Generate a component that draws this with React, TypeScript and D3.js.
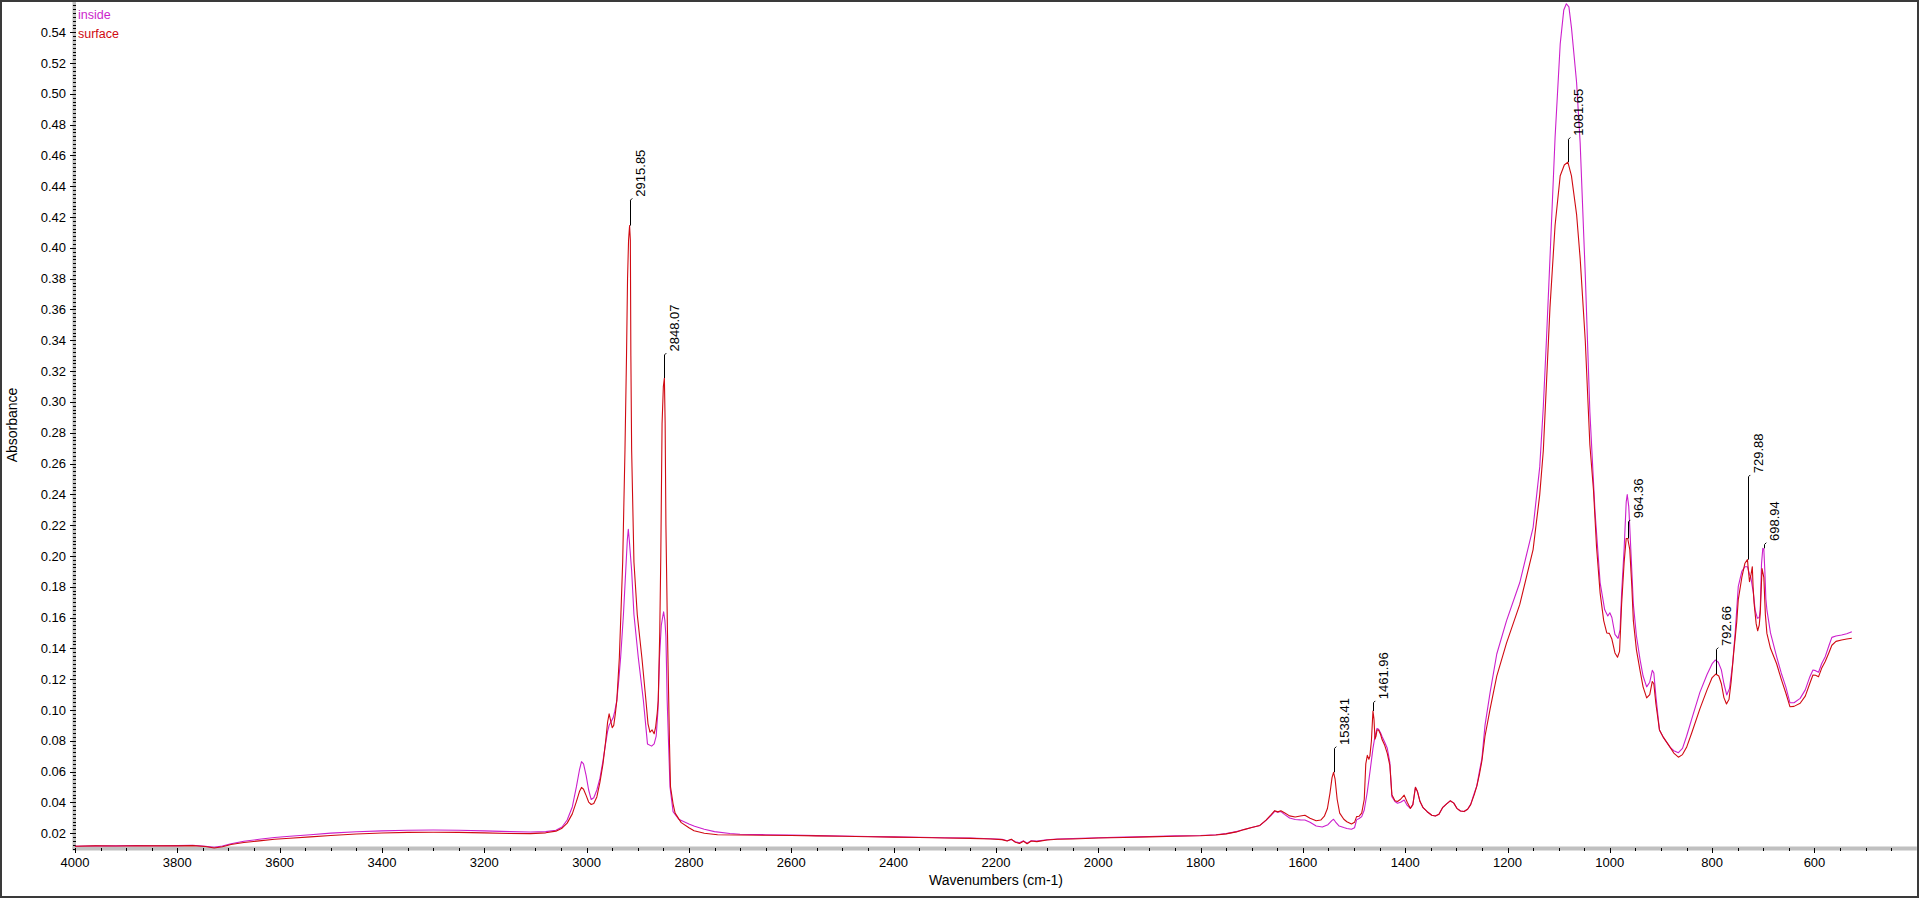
import * as d3 from "d3";

// FTIR spectra: [wavenumber cm-1, absorbance]
const insideSpectrum: [number, number][] = [
  [4000, 0.0115], [3960, 0.0118], [3920, 0.0117], [3880, 0.012], [3840, 0.0118], [3800, 0.0119],
  [3770, 0.0121], [3745, 0.0115], [3728, 0.0108], [3712, 0.0116], [3695, 0.0131], [3670, 0.0147],
  [3640, 0.016], [3610, 0.0172], [3580, 0.018], [3540, 0.019], [3500, 0.02], [3450, 0.0209],
  [3400, 0.0215], [3350, 0.0219], [3300, 0.022], [3250, 0.0219], [3200, 0.0215], [3150, 0.021],
  [3110, 0.0207], [3080, 0.021], [3060, 0.0219], [3048, 0.024], [3038, 0.0285], [3028, 0.037],
  [3020, 0.05], [3014, 0.061], [3010, 0.0664], [3006, 0.065], [3001, 0.0575], [2996, 0.048],
  [2991, 0.0418], [2986, 0.043], [2980, 0.048], [2974, 0.0555], [2968, 0.067], [2963, 0.078],
  [2959, 0.086], [2956, 0.09], [2952, 0.0925], [2948, 0.095], [2945, 0.099], [2941, 0.106],
  [2937, 0.12], [2933.5, 0.134], [2928, 0.162], [2923.5, 0.1905], [2920.5, 0.21], [2918.5, 0.2172],
  [2916.5, 0.21], [2912, 0.1905], [2907.5, 0.162], [2899, 0.134], [2889, 0.106], [2881, 0.0778],
  [2873, 0.0765], [2868, 0.078], [2864, 0.083], [2860.5, 0.1], [2857.5, 0.134], [2854, 0.155],
  [2851, 0.161], [2849.5, 0.1637], [2847, 0.158], [2845, 0.148], [2842.5, 0.106], [2840, 0.08],
  [2837, 0.05], [2831, 0.034], [2820, 0.029], [2800, 0.026], [2789, 0.0245], [2770, 0.0225],
  [2750, 0.021], [2720, 0.0198], [2700, 0.0193], [2650, 0.019], [2600, 0.0188], [2550, 0.0184],
  [2500, 0.0181], [2450, 0.0178], [2400, 0.0176], [2350, 0.0173], [2300, 0.017], [2250, 0.0168],
  [2210, 0.0164], [2188, 0.016], [2178, 0.0151], [2170, 0.0159], [2162, 0.0144], [2154, 0.0137],
  [2146, 0.015], [2139, 0.0134], [2131, 0.0151], [2120, 0.0148], [2100, 0.0157], [2080, 0.0162],
  [2050, 0.0165], [2000, 0.017], [1950, 0.0174], [1900, 0.0178], [1850, 0.0182], [1800, 0.0185],
  [1770, 0.019], [1750, 0.0197], [1730, 0.021], [1715, 0.0224], [1700, 0.0237], [1684, 0.025],
  [1672, 0.0283], [1662, 0.0315], [1655, 0.0342], [1649, 0.0336], [1643, 0.034], [1636, 0.0322],
  [1626, 0.0298], [1615, 0.0289], [1605, 0.0286], [1596, 0.0285], [1586, 0.0271], [1574, 0.0246],
  [1562, 0.024], [1551, 0.0255], [1543, 0.0283], [1540, 0.029], [1536, 0.0272], [1529, 0.0246],
  [1520, 0.0236], [1514, 0.023], [1505, 0.0225], [1499, 0.0235], [1495, 0.0286], [1490, 0.0295],
  [1485, 0.0307], [1480, 0.035], [1474, 0.047], [1468, 0.062], [1463, 0.075], [1459, 0.083],
  [1455, 0.088], [1452, 0.0875], [1448, 0.085], [1445, 0.0826], [1440, 0.079], [1435, 0.0751],
  [1430, 0.066], [1426, 0.0436], [1420, 0.0405], [1415, 0.0394], [1409, 0.04], [1402, 0.0415],
  [1396, 0.038], [1390, 0.0361], [1385, 0.0385], [1380, 0.0498], [1376, 0.047], [1371, 0.0405],
  [1365, 0.0365], [1357, 0.0339], [1348, 0.0316], [1341, 0.0311], [1334, 0.0322], [1327, 0.0365],
  [1319, 0.039], [1312, 0.041], [1305, 0.0395], [1299, 0.0361], [1292, 0.0344], [1285, 0.034],
  [1278, 0.0355], [1272, 0.0387], [1265, 0.046], [1260, 0.0507], [1255, 0.06], [1250, 0.0686],
  [1244, 0.09], [1234, 0.1114], [1221, 0.1363], [1202, 0.1578], [1176, 0.1827], [1150, 0.2184],
  [1137, 0.2578], [1130, 0.297], [1124, 0.3397], [1117, 0.3932], [1107, 0.4718], [1097, 0.5324],
  [1090, 0.5545], [1085, 0.5585], [1080, 0.5565], [1075, 0.543], [1065, 0.5075], [1058, 0.4682],
  [1048, 0.3825], [1039, 0.2935], [1029, 0.229], [1019, 0.1827], [1010, 0.165], [1004, 0.161],
  [1000, 0.1631], [996, 0.16], [990, 0.149], [984, 0.1465], [980, 0.152], [977, 0.1756],
  [972, 0.205], [968, 0.235], [966, 0.2398], [963, 0.232], [961, 0.2185], [957, 0.19],
  [954, 0.1685], [948, 0.148], [941, 0.1328], [935, 0.122], [928, 0.115], [922, 0.118],
  [917, 0.1257], [914, 0.124], [910, 0.109], [903, 0.087], [895, 0.082], [882, 0.0757],
  [875, 0.0735], [866, 0.0722], [858, 0.075], [850, 0.0829], [840, 0.094], [824, 0.1114],
  [810, 0.123], [800, 0.13], [794, 0.1324], [788, 0.131], [782, 0.126], [777, 0.117],
  [771.5, 0.1097], [766, 0.114], [760, 0.13], [755, 0.15], [749, 0.18], [742, 0.19],
  [736, 0.193], [731, 0.193], [727, 0.188], [724.6, 0.1865], [719.5, 0.176], [716, 0.165],
  [711.6, 0.1595], [708, 0.16], [706, 0.165], [703.5, 0.195], [701, 0.2049], [699, 0.2045],
  [697, 0.19], [695, 0.172], [693, 0.165], [686, 0.15], [674, 0.1346], [665, 0.124],
  [656, 0.115], [648, 0.1047], [640, 0.1047], [628, 0.1075], [618, 0.113], [609, 0.1216],
  [603, 0.1259], [598, 0.1255], [592, 0.1245], [586, 0.13], [579, 0.1346], [572, 0.1415],
  [566, 0.1471], [558, 0.148], [547, 0.1486], [537, 0.1495], [527, 0.1508],
];

const surfaceSpectrum: [number, number][] = [
  [4000, 0.0115], [3960, 0.0117], [3920, 0.0116], [3880, 0.0118], [3840, 0.0117], [3800, 0.0117],
  [3770, 0.0119], [3745, 0.0113], [3728, 0.0104], [3712, 0.0112], [3695, 0.0126], [3670, 0.0139],
  [3640, 0.015], [3610, 0.016], [3580, 0.0167], [3540, 0.0176], [3500, 0.0185], [3450, 0.0194],
  [3400, 0.0201], [3350, 0.0205], [3300, 0.0206], [3250, 0.0205], [3200, 0.0202], [3150, 0.0198],
  [3110, 0.0197], [3080, 0.0202], [3060, 0.0213], [3048, 0.0232], [3038, 0.0265], [3028, 0.0325],
  [3020, 0.0405], [3014, 0.047], [3010, 0.0497], [3006, 0.0485], [3001, 0.0445], [2996, 0.0402],
  [2991, 0.0386], [2986, 0.0393], [2980, 0.0435], [2974, 0.053], [2968, 0.065], [2963, 0.079],
  [2959, 0.092], [2956, 0.0975], [2953, 0.093], [2950, 0.0885], [2947, 0.09], [2944, 0.097],
  [2941, 0.106], [2936, 0.134], [2933, 0.162], [2929.5, 0.196], [2925, 0.269], [2922, 0.33],
  [2920, 0.38], [2918, 0.405], [2916, 0.4145], [2914.5, 0.405], [2913.5, 0.33], [2912, 0.269],
  [2907.5, 0.196], [2901, 0.162], [2892, 0.134], [2884, 0.106], [2880, 0.091], [2876, 0.0855],
  [2872, 0.087], [2868, 0.0845], [2865, 0.089], [2862, 0.098], [2860, 0.106], [2857, 0.151],
  [2855, 0.2], [2852.5, 0.286], [2850, 0.31], [2848, 0.3155], [2846.5, 0.286], [2845, 0.22],
  [2842, 0.151], [2839.5, 0.106], [2838, 0.078], [2836, 0.05], [2831, 0.039], [2827, 0.033],
  [2815, 0.0268], [2800, 0.0235], [2790, 0.0215], [2770, 0.0199], [2744, 0.019], [2700, 0.0188],
  [2650, 0.0186], [2600, 0.0185], [2550, 0.0182], [2500, 0.018], [2450, 0.0177], [2400, 0.0174],
  [2350, 0.0172], [2300, 0.0168], [2250, 0.0166], [2210, 0.0162], [2188, 0.0158], [2178, 0.0149],
  [2170, 0.0161], [2162, 0.0141], [2154, 0.0133], [2146, 0.0147], [2139, 0.0131], [2131, 0.0149],
  [2120, 0.0145], [2100, 0.0155], [2080, 0.016], [2050, 0.0162], [2000, 0.0168], [1950, 0.0172],
  [1900, 0.0176], [1850, 0.018], [1800, 0.0183], [1770, 0.0188], [1750, 0.0195], [1730, 0.0208],
  [1715, 0.0223], [1700, 0.0236], [1684, 0.025], [1672, 0.0285], [1662, 0.032], [1655, 0.0346],
  [1649, 0.0338], [1643, 0.0345], [1636, 0.0332], [1626, 0.0312], [1615, 0.0305], [1605, 0.0311],
  [1596, 0.0316], [1586, 0.0297], [1574, 0.028], [1565, 0.0285], [1558, 0.031], [1552, 0.036],
  [1547, 0.046], [1543, 0.056], [1540, 0.0595], [1537, 0.055], [1533, 0.042], [1528, 0.033],
  [1520, 0.029], [1514, 0.0274], [1505, 0.0259], [1499, 0.027], [1495, 0.0307], [1490, 0.031],
  [1485, 0.033], [1480, 0.042], [1477, 0.065], [1474, 0.0705], [1471, 0.068], [1469, 0.07],
  [1466, 0.08], [1463, 0.0993], [1461, 0.094], [1459, 0.081], [1457, 0.083], [1455, 0.087],
  [1452, 0.087], [1448, 0.084], [1445, 0.0806], [1440, 0.077], [1435, 0.0718], [1430, 0.064],
  [1426, 0.045], [1420, 0.041], [1415, 0.0405], [1409, 0.042], [1402, 0.0447], [1396, 0.04],
  [1390, 0.0361], [1385, 0.0385], [1380, 0.0498], [1376, 0.047], [1371, 0.0405], [1365, 0.0365],
  [1357, 0.0339], [1348, 0.0316], [1341, 0.0311], [1334, 0.0322], [1327, 0.0365], [1319, 0.039],
  [1312, 0.041], [1305, 0.0395], [1299, 0.0361], [1292, 0.0344], [1285, 0.034], [1278, 0.0355],
  [1272, 0.0385], [1265, 0.045], [1260, 0.0505], [1255, 0.058], [1250, 0.067], [1244, 0.0829],
  [1234, 0.1007], [1221, 0.122], [1202, 0.1434], [1176, 0.1685], [1150, 0.2041], [1137, 0.2398],
  [1130, 0.2684], [1124, 0.3112], [1117, 0.3612], [1107, 0.4147], [1097, 0.4468], [1089, 0.4538],
  [1082, 0.4557], [1075, 0.4468], [1065, 0.4218], [1058, 0.3932], [1048, 0.3397], [1039, 0.272],
  [1032, 0.243], [1026, 0.206], [1019, 0.176], [1012, 0.158], [1006, 0.15], [1001, 0.1497],
  [996, 0.146], [990, 0.137], [985, 0.1342], [981, 0.138], [977, 0.1685], [972, 0.196],
  [968, 0.2113], [965, 0.2113], [961, 0.2041], [957, 0.18], [954, 0.1578], [948, 0.139],
  [941, 0.1257], [935, 0.115], [928, 0.1078], [922, 0.11], [917, 0.1185], [914, 0.117],
  [910, 0.104], [903, 0.087], [895, 0.082], [882, 0.0757], [875, 0.072], [866, 0.0693],
  [858, 0.071], [850, 0.0757], [840, 0.085], [824, 0.1007], [810, 0.113], [800, 0.121],
  [793, 0.1233], [787, 0.122], [782, 0.117], [777, 0.108], [772, 0.1039], [767, 0.107],
  [763, 0.118], [758, 0.1367], [752, 0.157], [749, 0.1714], [742, 0.186], [736, 0.1952],
  [731, 0.1976], [729, 0.19], [727, 0.1833], [724, 0.188], [721.5, 0.193], [720, 0.18],
  [718, 0.1692], [714, 0.156], [711, 0.1514], [708, 0.155], [706, 0.1627], [702.5, 0.1918],
  [699, 0.186], [696, 0.162], [693, 0.1497], [686, 0.14], [674, 0.13], [665, 0.12],
  [656, 0.111], [648, 0.1021], [640, 0.1023], [628, 0.1043], [618, 0.109], [609, 0.1173],
  [603, 0.1227], [598, 0.1225], [592, 0.1216], [586, 0.127], [579, 0.1314], [572, 0.137],
  [566, 0.142], [558, 0.1445], [547, 0.1454], [537, 0.146], [527, 0.1465],
];

const peakWavenumbers = [2915.85, 2848.07, 1538.41, 1461.96, 1081.65, 964.36, 792.66, 729.88, 698.94];
const peakAbsorbance = [0.4145, 0.3155, 0.0595, 0.0993, 0.4557, 0.2113, 0.1233, 0.1976, 0.2049];
const labelAbsorbance = [0.431, 0.3305, 0.075, 0.1047, 0.4705, 0.2222, 0.1393, 0.2514, 0.2074];

const xTickValues = d3.range(4000, 599, -200);
const yTickValues = d3.range(2, 55, 2).map((v) => v / 100);

const INSIDE = "#cc1fcc";
const SURFACE = "#d00a12";
const FONT = "'Liberation Sans', Arial, sans-serif";

export default function App() {
  const width = 1920;
  const height = 899;
  const left = 75;
  const bottom = 849;

  const x = d3.scaleLinear().domain([4000, 400]).range([left, 1916.8]);
  const y = d3.scaleLinear().domain([0.0097, 0.559]).range([bottom, 3]);

  const line = d3
    .line<[number, number]>()
    .x((d) => x(d[0]))
    .y((d) => y(d[1]));

  const xMinor = d3.range(4000, 400, -50);
  const yMinor = d3.range(4, 224).map((i) => i * 0.0025).filter((v) => v >= 0.01 && v <= 0.559);

  return (
    <svg
      width={width}
      height={height}
      style={{ position: "absolute", left: 0, top: 0, background: "#fff" }}
      fontFamily={FONT}
    >
      <defs>
        <clipPath id="plot">
          <rect x={left} y={2} width={1916.8 - left} height={bottom - 2} />
        </clipPath>
      </defs>
      <rect x={1} y={1} width={1917} height={896} fill="#fff" stroke="#3a3a3a" strokeWidth={2} />

      {/* axes bars */}
      <rect x={72.5} y={2} width={3.5} height={bottom - 1} fill="#c0c0c0" />
      <rect x={72.5} y={846.5} width={1916.8 - 72.5} height={4} fill="#c0c0c0" />

      {/* y ticks */}
      <g shapeRendering="crispEdges" stroke="#000">
        {yMinor.map((v) => (
          <line key={"ym" + v} x1={72.5} x2={76} y1={Math.round(y(v)) + 0.5} y2={Math.round(y(v)) + 0.5} />
        ))}
        {yTickValues.map((v) => (
          <line key={"y" + v} x1={70} x2={76} y1={Math.round(y(v)) + 0.5} y2={Math.round(y(v)) + 0.5} />
        ))}
        {xMinor.map((w) => (
          <line key={"xm" + w} x1={Math.round(x(w)) + 0.5} x2={Math.round(x(w)) + 0.5} y1={848} y2={851} />
        ))}
        {xTickValues.map((w) => (
          <line key={"x" + w} x1={Math.round(x(w)) + 0.5} x2={Math.round(x(w)) + 0.5} y1={848} y2={853} />
        ))}
      </g>

      <g fontSize={13} fill="#000">
        {yTickValues.map((v) => (
          <text key={"yl" + v} x={66} y={y(v) + 4.6} textAnchor="end">
            {v.toFixed(2)}
          </text>
        ))}
        {xTickValues.map((w) => (
          <text key={"xl" + w} x={x(w)} y={867} textAnchor="middle">
            {w}
          </text>
        ))}
      </g>

      <text transform={`translate(17,425) rotate(-90)`} textAnchor="middle" fontSize={14}>
        Absorbance
      </text>
      <text x={(left + 1917) / 2} y={885} textAnchor="middle" fontSize={14}>
        Wavenumbers (cm-1)
      </text>

      <g clipPath="url(#plot)" fill="none" strokeWidth={1.1} strokeLinejoin="round">
        <path d={line(insideSpectrum) ?? ""} stroke={INSIDE} />
        <path d={line(surfaceSpectrum) ?? ""} stroke={SURFACE} />
      </g>

      {/* peak annotations */}
      <g>
        {peakWavenumbers.map((w, i) => {
          const lx = Math.round(x(w)) + 0.5;
          const y0 = y(peakAbsorbance[i]);
          const y1 = y(labelAbsorbance[i]);
          return (
            <g key={"pk" + w}>
              <path d={`M${lx},${y0}V${y1}l1.8,-1.8`} stroke="#000" fill="none" strokeWidth={1} />
              <text transform={`translate(${lx + 14.5},${y1 - 3.5}) rotate(-90)`} fontSize={13} fill="#000">
                {w.toFixed(2)}
              </text>
            </g>
          );
        })}
      </g>

      <text x={78} y={19} fontSize={12.5} fill={INSIDE}>
        inside
      </text>
      <text x={78} y={37.5} fontSize={12.5} fill={SURFACE}>
        surface
      </text>
    </svg>
  );
}
